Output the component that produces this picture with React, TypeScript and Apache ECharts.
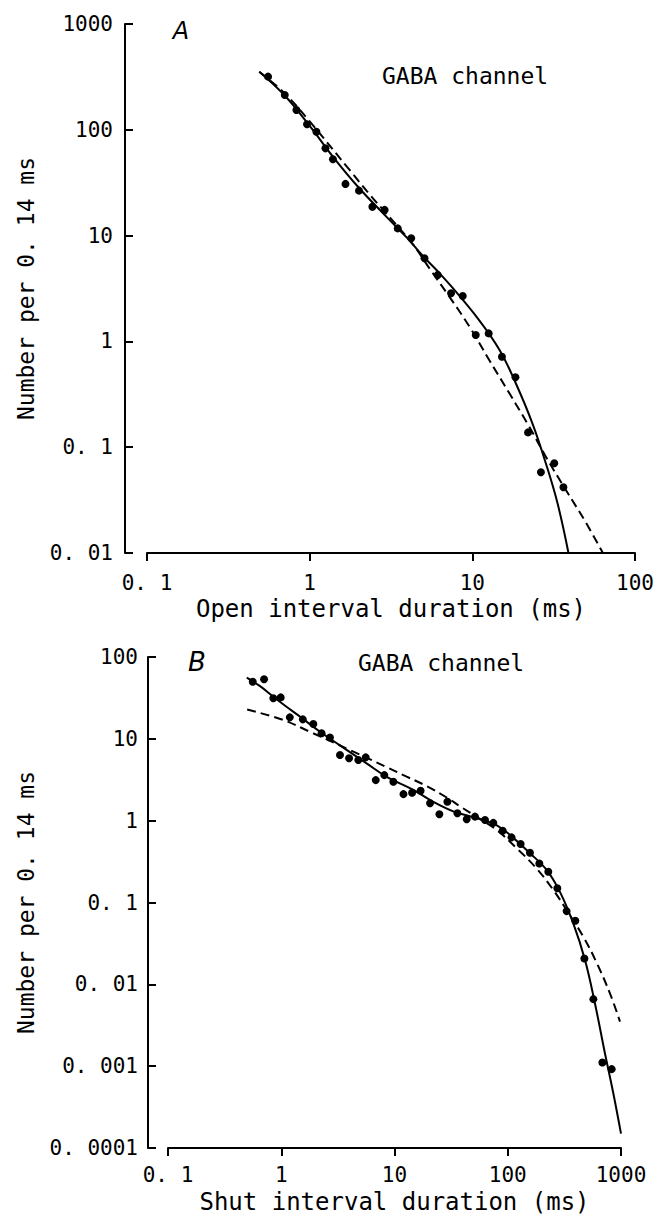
import React, { useEffect, useRef } from "react";
import * as echarts from "echarts";

// ---------- Panel A: open intervals ----------
const OPEN_X = [0.555, 0.703, 0.829, 0.963, 1.1, 1.25, 1.39, 1.66, 2.01, 2.43, 2.89, 3.48, 4.21, 5.08, 6.13, 7.4, 8.73, 10.5, 12.6, 15.2, 18.4, 22.0, 26.4, 31.9, 36.3];
const OPEN_Y = [318, 213, 154, 113, 96, 66.8, 52.6, 30.8, 26.6, 18.7, 17.5, 11.7, 9.43, 6.1, 4.25, 2.85, 2.69, 1.15, 1.19, 0.717, 0.458, 0.138, 0.058, 0.0705, 0.0418];

const OPEN_FIT_X = [0.49, 0.7, 1.0, 1.4, 2.0, 3.0, 4.0, 5.0, 6.0, 7.57, 11.0, 14.7, 18.5, 23.4, 28.3, 33.4, 39];
const OPEN_FIT_Y = [354, 212, 109, 55, 28.5, 14.8, 9.4, 6.35, 4.75, 3.2, 1.59, 0.83, 0.402, 0.168, 0.0705, 0.0295, 0.01];

const OPEN_ALT_X = [0.49, 0.7, 1.0, 1.76, 2.39, 2.8, 4.3, 5.45, 7.22, 9.6, 12.7, 16.9, 22.4, 28.3, 37.6, 49.8, 63.5];
const OPEN_ALT_Y = [354, 222, 120, 41.7, 23.5, 17.8, 8.3, 4.9, 2.65, 1.38, 0.667, 0.323, 0.156, 0.0813, 0.0394, 0.0195, 0.01];

const A_X_TICKS = [0.1, 1, 10, 100];
const A_X_LABELS = ["0. 1", "1", "10", "100"];
const A_Y_TICKS = [0.01, 0.1, 1, 10, 100, 1000];
const A_Y_LABELS = ["0. 01", "0. 1", "1", "10", "100", "1000"];

// ---------- Panel B: shut intervals ----------
const SHUT_X = [0.56, 0.705, 0.851, 0.989, 1.19, 1.55, 1.92, 2.27, 2.69, 3.3, 3.97, 4.79, 5.57, 6.83, 8.13, 9.77, 12.0, 14.3, 17.0, 20.6, 24.9, 29.3, 35.9, 43.4, 51.4, 63.0, 74.6, 90.2, 108, 130, 157, 190, 228, 274, 331, 395, 475, 570, 685, 828];
const SHUT_Y = [49.9, 53.4, 31.3, 32.1, 18.3, 17.3, 15.2, 11.7, 10.4, 6.34, 5.78, 5.5, 5.94, 3.13, 3.6, 2.99, 2.11, 2.19, 2.32, 1.63, 1.2, 1.7, 1.23, 1.04, 1.12, 1.02, 0.94, 0.753, 0.625, 0.518, 0.405, 0.3, 0.237, 0.149, 0.0785, 0.0597, 0.0207, 0.00659, 0.00111, 0.00092];

const SHUT_FIT_X = [0.496, 0.65, 0.851, 1.12, 1.47, 2.2, 3.3, 5.67, 8.53, 14.7, 22, 33, 49.6, 74.6, 98, 157, 221, 289, 379, 481, 589, 722, 856, 1000];
const SHUT_FIT_Y = [56, 44, 32.7, 24.5, 18.6, 12.2, 8.31, 5.01, 3.44, 2.37, 1.7, 1.3, 1.1, 0.92, 0.72, 0.4, 0.249, 0.135, 0.0555, 0.0198, 0.00583, 0.00143, 0.000463, 0.00015];

const SHUT_ALT_X = [0.5, 1.04, 1.79, 4.05, 8.53, 12.8, 19.2, 28.9, 37.8, 55, 80, 120, 180, 253, 331, 465, 610, 800, 980];
const SHUT_ALT_Y = [22.8, 17.0, 12.2, 7.3, 4.5, 3.45, 2.65, 1.92, 1.5, 1.08, 0.77, 0.46, 0.26, 0.142, 0.0807, 0.0381, 0.0183, 0.0077, 0.0035];

const B_X_TICKS = [0.1, 1, 10, 100, 1000];
const B_X_LABELS = ["0. 1", "1", "10", "100", "1000"];
const B_Y_TICKS = [0.0001, 0.001, 0.01, 0.1, 1, 10, 100];
const B_Y_LABELS = ["0. 0001", "0. 001", "0. 01", "0. 1", "1", "10", "100"];

const TITLE_A = "GABA channel";
const TITLE_B = "GABA channel";
const X_NAME_A = "Open interval duration (ms)";
const X_NAME_B = "Shut interval duration (ms)";
const Y_NAME = "Number per 0. 14 ms";

const MONO = "DejaVu Sans Mono";

function zip(xs: number[], ys: number[]) {
  return xs.map((x, i) => [x, ys[i]]);
}

function labelFor(ticks: number[], labels: string[]) {
  return (v: number) => {
    for (let i = 0; i < ticks.length; i++) {
      if (Math.abs(Math.log10(v) - Math.log10(ticks[i])) < 1e-6) return labels[i];
    }
    return "";
  };
}

function xAxisCfg(gridIndex: number, ticks: number[], labels: string[], name: string, nameGap: number, margin: number) {
  return {
    gridIndex,
    type: "log",
    logBase: 10,
    min: ticks[0],
    max: ticks[ticks.length - 1],
    name,
    nameLocation: "middle",
    nameGap,
    nameTextStyle: { fontFamily: MONO, fontSize: 24, color: "#000" },
    axisLine: { show: true, onZero: false, lineStyle: { color: "#000", width: 2 } },
    axisTick: { show: true, inside: false, length: 8, lineStyle: { color: "#000", width: 2 } },
    minorTick: { show: false },
    splitLine: { show: false },
    axisLabel: { color: "#000", fontFamily: MONO, fontSize: 21, margin, formatter: labelFor(ticks, labels) },
  };
}

function yAxisCfg(gridIndex: number, ticks: number[], labels: string[], offset: number, nameGap: number, margin: number) {
  return {
    gridIndex,
    type: "log",
    logBase: 10,
    min: ticks[0],
    max: ticks[ticks.length - 1],
    offset,
    name: Y_NAME,
    nameLocation: "middle",
    nameRotate: 90,
    nameGap,
    nameTextStyle: { fontFamily: MONO, fontSize: 23, color: "#000" },
    axisLine: { show: true, onZero: false, lineStyle: { color: "#000", width: 2 } },
    axisTick: { show: true, inside: true, length: 8, lineStyle: { color: "#000", width: 2 } },
    minorTick: { show: false },
    splitLine: { show: false },
    axisLabel: { color: "#000", fontFamily: MONO, fontSize: 21, margin, formatter: labelFor(ticks, labels) },
  };
}

function pointSeries(idx: number, xs: number[], ys: number[]) {
  return {
    type: "scatter",
    xAxisIndex: idx,
    yAxisIndex: idx,
    data: zip(xs, ys),
    symbol: "circle",
    symbolSize: 8,
    itemStyle: { color: "#000", opacity: 1 },
    z: 5,
  };
}

function lineSeries(idx: number, xs: number[], ys: number[], dashed: boolean) {
  return {
    type: "line",
    xAxisIndex: idx,
    yAxisIndex: idx,
    data: zip(xs, ys),
    showSymbol: false,
    symbol: "none",
    smooth: 0.4,
    lineStyle: { color: "#000", width: 2, type: dashed ? [9, 5] : "solid" },
    z: 3,
  };
}

export default function App() {
  const ref = useRef<HTMLDivElement>(null);
  useEffect(() => {
    document.body.style.margin = "0";
    const chart = echarts.init(ref.current!, null, { renderer: "svg" });
    chart.setOption({
      animation: false,
      backgroundColor: "#fff",
      grid: [
        { left: 147, top: 24, width: 488, height: 529 },
        { left: 168, top: 657, width: 453, height: 491 },
      ],
      xAxis: [
        xAxisCfg(0, A_X_TICKS, A_X_LABELS, X_NAME_A, 44, 19),
        xAxisCfg(1, B_X_TICKS, B_X_LABELS, X_NAME_B, 42, 16),
      ],
      yAxis: [
        yAxisCfg(0, A_Y_TICKS, A_Y_LABELS, 22, 88, 12),
        yAxisCfg(1, B_Y_TICKS, B_Y_LABELS, 20, 111, 10),
      ],
      series: [
        lineSeries(0, OPEN_ALT_X, OPEN_ALT_Y, true),
        lineSeries(0, OPEN_FIT_X, OPEN_FIT_Y, false),
        pointSeries(0, OPEN_X, OPEN_Y),
        lineSeries(1, SHUT_ALT_X, SHUT_ALT_Y, true),
        lineSeries(1, SHUT_FIT_X, SHUT_FIT_Y, false),
        pointSeries(1, SHUT_X, SHUT_Y),
      ],
      graphic: [
        { type: "text", x: 181, y: 31, style: { text: "A", fill: "#000", font: "italic 24px 'DejaVu Sans'", align: "center", verticalAlign: "middle" } },
        { type: "text", x: 197, y: 662, style: { text: "B", fill: "#000", font: "italic 26px 'DejaVu Sans'", align: "center", verticalAlign: "middle" } },
        { type: "text", x: 382, y: 76, style: { text: TITLE_A, fill: "#000", font: `23px '${MONO}'`, align: "left", verticalAlign: "middle" } },
        { type: "text", x: 358, y: 663, style: { text: TITLE_B, fill: "#000", font: `23px '${MONO}'`, align: "left", verticalAlign: "middle" } },
      ],
    });
    return () => chart.dispose();
  }, []);
  return (
    <div
      ref={ref}
      style={{ position: "absolute", left: 0, top: 0, width: 660, height: 1216, background: "#fff" }}
    />
  );
}
